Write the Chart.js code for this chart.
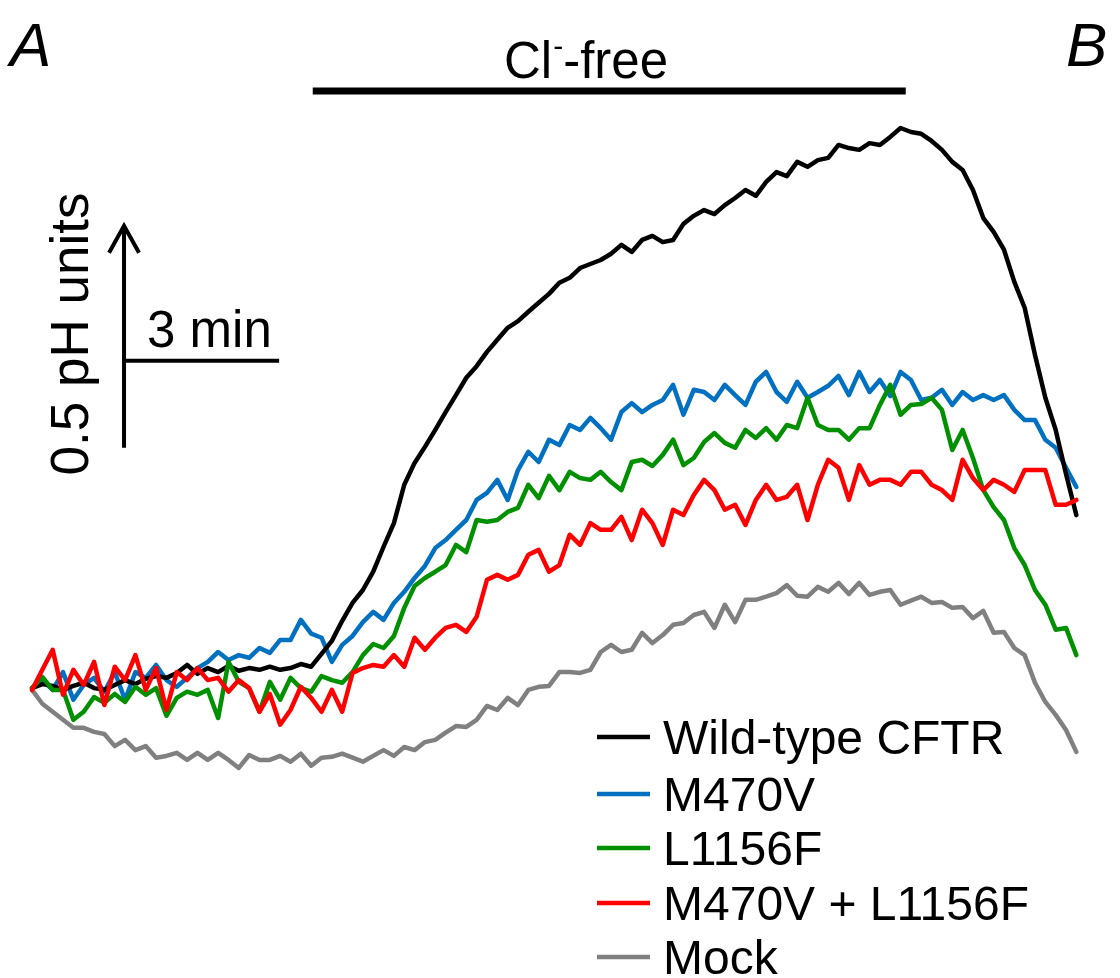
<!DOCTYPE html>
<html>
<head>
<meta charset="utf-8">
<title>pHi traces - Cl- free</title>
<script src="https://cdn.jsdelivr.net/npm/chart.js@4.4.1/dist/chart.umd.min.js"></script>
<style>
  html, body { margin: 0; padding: 0; background: #fff; }
  #wrap { position: relative; width: 1120px; height: 978px; }
</style>
</head>
<body>
<div id="wrap"><canvas id="traceChart"></canvas></div>
<script>
// change in pHi (pH units) vs time (min), one sample every 0.2 min
const DT = 0.2;

const seriesNames = ['Wild-type CFTR', 'M470V', 'L1156F', 'M470V + L1156F', 'Mock'];
const seriesColors = ['#000000', '#0070c0', '#009000', '#ff0000', '#808080'];

const wildType = [0.004,0.013,0.009,0.000,0.009,0.016,0.004,0.000,0.011,0.022,
    0.013,0.025,0.031,0.027,0.038,0.056,0.036,0.049,0.040,0.054,
    0.043,0.049,0.045,0.052,0.045,0.049,0.058,0.052,0.081,0.110,
    0.155,0.195,0.224,0.265,0.321,0.374,0.460,0.509,0.545,0.583,
    0.623,0.661,0.700,0.726,0.758,0.785,0.812,0.827,0.848,0.868,
    0.888,0.913,0.924,0.946,0.955,0.964,0.978,0.998,0.982,1.009,
    1.018,1.004,1.009,1.045,1.063,1.076,1.067,1.087,1.103,1.121,
    1.108,1.139,1.161,1.152,1.184,1.173,1.188,1.193,1.222,1.215,
    1.211,1.226,1.222,1.240,1.260,1.251,1.247,1.231,1.211,1.184,
    1.166,1.121,1.058,1.027,0.987,0.915,0.857,0.751,0.655,0.583,
    0.484,0.392];

const m470v = [0.004,0.022,0.000,0.040,-0.022,0.011,0.027,-0.004,0.040,-0.022,
    0.040,0.027,0.056,0.022,0.007,0.027,0.049,0.063,0.085,0.067,
    0.078,0.072,0.094,0.083,0.112,0.112,0.157,0.126,0.117,0.063,
    0.101,0.121,0.152,0.175,0.157,0.195,0.220,0.251,0.278,0.318,
    0.336,0.359,0.381,0.426,0.442,0.471,0.426,0.493,0.534,0.511,
    0.561,0.549,0.594,0.583,0.610,0.587,0.561,0.623,0.643,0.623,
    0.639,0.650,0.684,0.617,0.673,0.668,0.650,0.684,0.661,0.639,
    0.691,0.713,0.668,0.646,0.691,0.655,0.668,0.682,0.704,0.661,
    0.713,0.668,0.695,0.659,0.713,0.695,0.650,0.655,0.673,0.639,
    0.668,0.650,0.661,0.650,0.661,0.628,0.605,0.605,0.561,0.543,
    0.498,0.455];

const l1156f = [0.004,0.029,0.000,0.000,-0.067,-0.049,-0.016,-0.029,-0.009,-0.027,
    0.007,-0.011,0.004,-0.058,-0.018,-0.004,-0.011,0.000,-0.063,0.063,
    0.018,0.004,-0.049,0.018,-0.022,0.027,0.004,-0.004,0.031,0.022,
    0.016,0.040,0.078,0.103,0.094,0.121,0.184,0.233,0.251,0.265,
    0.280,0.325,0.309,0.381,0.377,0.381,0.399,0.408,0.460,0.430,
    0.480,0.448,0.489,0.475,0.471,0.489,0.466,0.448,0.511,0.516,
    0.502,0.527,0.561,0.504,0.520,0.556,0.576,0.554,0.543,0.583,
    0.565,0.587,0.561,0.594,0.587,0.655,0.594,0.583,0.583,0.561,
    0.587,0.587,0.639,0.684,0.617,0.639,0.641,0.655,0.628,0.538,
    0.583,0.520,0.448,0.410,0.381,0.318,0.280,0.224,0.191,0.135,
    0.139,0.078];

const doubleMutant = [0.000,0.045,0.090,-0.011,0.045,0.011,0.063,-0.034,0.052,0.022,
    0.078,0.000,0.049,-0.045,0.040,0.022,0.049,0.022,0.027,-0.004,
    0.022,0.004,-0.049,-0.009,-0.078,-0.045,0.007,-0.018,-0.049,0.000,
    -0.049,0.038,0.049,0.056,0.052,0.078,0.052,0.117,0.090,0.117,
    0.139,0.146,0.130,0.164,0.247,0.258,0.247,0.258,0.303,0.314,
    0.265,0.280,0.348,0.325,0.374,0.359,0.359,0.388,0.336,0.404,
    0.374,0.325,0.404,0.392,0.437,0.471,0.448,0.404,0.415,0.370,
    0.426,0.460,0.426,0.433,0.460,0.381,0.460,0.516,0.498,0.426,
    0.504,0.460,0.471,0.471,0.460,0.489,0.489,0.460,0.448,0.426,
    0.516,0.475,0.448,0.471,0.460,0.444,0.493,0.493,0.493,0.415,
    0.415,0.426];

const mock = [0.000,-0.031,-0.049,-0.067,-0.085,-0.085,-0.094,-0.099,-0.126,-0.112,
    -0.135,-0.126,-0.152,-0.148,-0.141,-0.157,-0.141,-0.157,-0.141,-0.157,
    -0.175,-0.146,-0.157,-0.157,-0.148,-0.161,-0.143,-0.170,-0.152,-0.150,
    -0.143,-0.152,-0.161,-0.148,-0.135,-0.148,-0.128,-0.135,-0.117,-0.112,
    -0.096,-0.081,-0.083,-0.067,-0.036,-0.045,-0.018,-0.034,0.000,0.007,
    0.009,0.040,0.040,0.038,0.045,0.085,0.101,0.085,0.090,0.128,
    0.105,0.123,0.146,0.150,0.168,0.175,0.139,0.191,0.152,0.202,
    0.202,0.209,0.217,0.235,0.211,0.209,0.231,0.220,0.240,0.215,
    0.240,0.213,0.220,0.224,0.191,0.200,0.209,0.195,0.197,0.184,
    0.186,0.161,0.177,0.128,0.130,0.094,0.078,0.016,-0.027,-0.056,
    -0.090,-0.139];

// Cl- free period (min) and scale bar position (min, pH)
const clFreePeriod = [5.43, 16.9];
const scaleBarTime = 1.78;
const scaleBarPhBottom = 0.543;
const scaleBarPhHoriz = 0.738;
const scaleMin = 3;
const scalePh = 0.5;

const seriesValues = [wildType, m470v, l1156f, doubleMutant, mock];
const drawOrder = [2, 3, 1, 0, 4]; // red on top, grey at the back
const times = wildType.map((_, i) => +(i * DT).toFixed(1));

const FONT = '"Liberation Sans", Arial, Helvetica, sans-serif';

const overlay = {
    id: 'overlay',
    afterDraw(chart) {
        const ctx = chart.ctx;
        const xs = chart.scales.x;
        const ys = chart.scales.y;
        ctx.save();
        ctx.fillStyle = '#000';
        ctx.strokeStyle = '#000';
        ctx.textBaseline = 'alphabetic';

        // panel letters
        ctx.font = 'italic 62px ' + FONT;
        ctx.fillText('A', 10, 66);
        ctx.fillText('B', 1066, 66);

        // Cl- free bar + label
        const bx0 = xs.getPixelForValue(clFreePeriod[0]);
        const bx1 = xs.getPixelForValue(clFreePeriod[1]);
        ctx.lineWidth = 7;
        ctx.lineCap = 'butt';
        ctx.beginPath();
        ctx.moveTo(bx0, 91);
        ctx.lineTo(bx1, 91);
        ctx.stroke();

        let tx = 504;
        ctx.font = '51px ' + FONT;
        ctx.fillText('Cl', tx, 78);
        tx += ctx.measureText('Cl').width;
        ctx.font = '30px ' + FONT;
        ctx.fillText('-', tx + 1, 56);
        tx += ctx.measureText('-').width + 1;
        ctx.font = '51px ' + FONT;
        ctx.fillText('-free', tx, 78);

        // scale bar
        const sx = xs.getPixelForValue(scaleBarTime);
        const sx2 = xs.getPixelForValue(scaleBarTime + scaleMin);
        const syBottom = ys.getPixelForValue(scaleBarPhBottom);
        const syTop = ys.getPixelForValue(scaleBarPhBottom + scalePh);
        const syH = ys.getPixelForValue(scaleBarPhHoriz);
        ctx.lineWidth = 4;
        ctx.beginPath();
        ctx.moveTo(sx, syBottom);
        ctx.lineTo(sx, syTop + 1);
        ctx.moveTo(sx, syH);
        ctx.lineTo(sx2, syH);
        ctx.stroke();
        ctx.lineJoin = 'miter';
        ctx.beginPath();
        ctx.moveTo(sx - 15, syTop + 28);
        ctx.lineTo(sx, syTop + 1);
        ctx.lineTo(sx + 15, syTop + 28);
        ctx.stroke();

        ctx.font = '51px ' + FONT;
        ctx.fillText('3 min', sx + 23, syH - 14);

        ctx.save();
        ctx.translate(88, 334);
        ctx.rotate(-Math.PI / 2);
        ctx.font = '53px ' + FONT;
        ctx.textAlign = 'center';
        ctx.fillText('0.5 pH units', 0, 0);
        ctx.restore();

        // legend
        const rowY = [737, 794, 848, 903, 957];
        ctx.font = '48px ' + FONT;
        chart.data.datasets.forEach((ds, i) => {
            ctx.strokeStyle = ds.borderColor;
            ctx.lineWidth = 4.5;
            ctx.beginPath();
            ctx.moveTo(597, rowY[i]);
            ctx.lineTo(650, rowY[i]);
            ctx.stroke();
            ctx.fillStyle = '#000';
            ctx.fillText(ds.label, 663, rowY[i] + 17);
        });
        ctx.restore();
    }
};

const ctx = document.getElementById('traceChart').getContext('2d');
const traceChart = new Chart(ctx, {
    type: 'line',
    data: {
        datasets: seriesNames.map((name, i) => ({
            label: name,
            data: seriesValues[i].map((v, j) => ({ x: times[j], y: v })),
            borderColor: seriesColors[i],
            backgroundColor: seriesColors[i],
            borderWidth: 4.5,
            pointRadius: 0,
            tension: 0,
            fill: false,
            borderJoinStyle: 'round',
            borderCapStyle: 'round',
            order: drawOrder[i]
        }))
    },
    options: {
        responsive: true,
        maintainAspectRatio: false,
        animation: false,
        layout: { padding: 0 },
        scales: {
            x: { type: 'linear', min: -0.619, max: 21.044, display: false },
            y: { type: 'linear', min: -0.646, max: 1.547, display: false }
        },
        plugins: {
            legend: { display: false },
            tooltip: { enabled: false }
        }
    },
    plugins: [overlay]
});
</script>
</body>
</html>
